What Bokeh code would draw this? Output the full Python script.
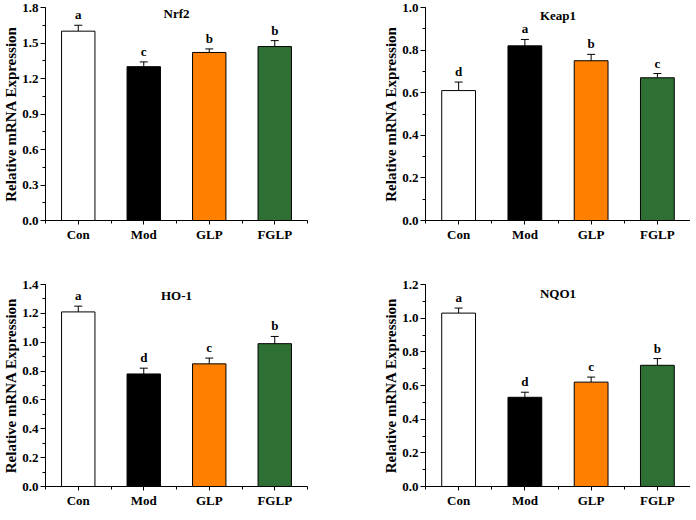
import numpy as np
from bokeh.plotting import figure
from bokeh.layouts import column, row
from bokeh.models import FixedTicker, Range1d, ColumnDataSource, Whisker, TeeHead
from bokeh.core.properties import value
from bokeh.embed import file_html
from bokeh.resources import INLINE

groups = ["Con", "Mod", "GLP", "FGLP"]
colors = ["#FFFFFF", "#000000", "#FF7F00", "#2E7033"]

nrf2 = [1.60, 1.30, 1.42, 1.47]
nrf2_err = [0.05, 0.04, 0.03, 0.05]
nrf2_sig = ["a", "c", "b", "b"]

keap1 = [0.61, 0.82, 0.75, 0.67]
keap1_err = [0.04, 0.03, 0.03, 0.02]
keap1_sig = ["d", "a", "b", "c"]

ho1 = [1.21, 0.78, 0.85, 0.99]
ho1_err = [0.04, 0.04, 0.04, 0.05]
ho1_sig = ["a", "d", "c", "b"]

nqo1 = [1.03, 0.53, 0.62, 0.72]
nqo1_err = [0.03, 0.03, 0.03, 0.04]
nqo1_sig = ["a", "d", "c", "b"]

panels = [
    ("Nrf2", nrf2, nrf2_err, nrf2_sig, 1.8, 0.3),
    ("Keap1", keap1, keap1_err, keap1_sig, 1.0, 0.2),
    ("HO-1", ho1, ho1_err, ho1_sig, 1.4, 0.2),
    ("NQO1", nqo1, nqo1_err, nqo1_sig, 1.2, 0.2),
]

FONT = value("Liberation Serif")


def make_panel(title, vals, errs, sig, ymax, step, width, height, bl, br, bt, bb, toff):
    n = len(groups)
    xs = np.arange(n) + 0.5
    p = figure(width=width, height=height, output_backend="svg", toolbar_location=None,
               x_range=Range1d(0, n), y_range=Range1d(0, ymax),
               min_border_left=bl, min_border_right=br, min_border_top=bt, min_border_bottom=bb)
    p.outline_line_color = None
    p.grid.visible = False
    p.background_fill_color = "white"
    p.border_fill_color = "white"

    src = ColumnDataSource(dict(x=xs, top=vals, err_top=np.array(vals) + np.array(errs),
                                color=colors, sig=sig))
    p.vbar(x="x", top="top", bottom=0, width=0.51, fill_color="color",
           line_color="black", line_width=1, source=src)
    w = Whisker(base="x", upper="err_top", lower="top", source=src, dimension="height",
                line_color="black", line_width=1,
                upper_head=TeeHead(size=8, line_color="black", line_width=1), lower_head=None)
    p.add_layout(w)

    p.text(x="x", y="err_top", text="sig", source=src, text_font=FONT, text_font_style="bold",
           text_font_size="13px", text_align="center", text_baseline="bottom", y_offset=-3,
           text_color="black")
    p.text(x=[n / 2], y=[ymax], text=[title], text_font=FONT, text_font_style="bold",
           text_font_size="13px", text_align="center", text_baseline="top", y_offset=toff,
           text_color="black")

    yt = [round(i * step, 2) for i in range(int(round(ymax / step)) + 1)]
    ym = [round(i * step / 2, 3) for i in range(int(round(ymax / step)) * 2 + 1)]
    p.yaxis.ticker = FixedTicker(ticks=yt, minor_ticks=ym)
    p.yaxis.major_label_overrides = {t: f"{t:.1f}" for t in yt}
    p.yaxis.axis_label = "Relative mRNA Expression"
    p.yaxis.axis_label_text_font = "Liberation Serif"
    p.yaxis.axis_label_text_font_style = "bold"
    p.yaxis.axis_label_text_font_size = "15px"
    p.yaxis.axis_label_standoff = 0
    p.yaxis.major_label_standoff = 2

    p.xaxis.ticker = FixedTicker(ticks=list(xs), minor_ticks=list(np.arange(n + 1) * 1.0))
    p.xaxis.major_label_overrides = {float(x): g for x, g in zip(xs, groups)}
    p.xaxis.major_label_standoff = 2

    for ax in (p.xaxis, p.yaxis):
        ax.axis_line_color = "black"
        ax.axis_line_width = 1
        ax.major_tick_line_color = "black"
        ax.minor_tick_line_color = "black"
        ax.major_tick_in = 0
        ax.minor_tick_in = 0
        ax.major_label_text_font = "Liberation Serif"
        ax.major_label_text_font_style = "bold"
        ax.major_label_text_font_size = "13px"
        ax.major_label_text_color = "black"
        ax.axis_label_text_color = "black"
    p.yaxis.major_tick_out = 5
    p.yaxis.minor_tick_out = 3
    p.xaxis.major_tick_out = 4
    p.xaxis.minor_tick_out = 3
    return p


p1 = make_panel(*panels[0], width=380, height=256, bl=40, br=73, bt=7, bb=36, toff=-2)
p2 = make_panel(*panels[1], width=310, height=256, bl=40, br=0, bt=7, bb=36, toff=0)
p3 = make_panel(*panels[2], width=380, height=254, bl=40, br=73, bt=28, bb=21, toff=3)
p4 = make_panel(*panels[3], width=310, height=254, bl=40, br=0, bt=28, bb=21, toff=1)

layout = column(row(p1, p2), row(p3, p4))
open("out.html", "w").write(file_html(layout, INLINE))
